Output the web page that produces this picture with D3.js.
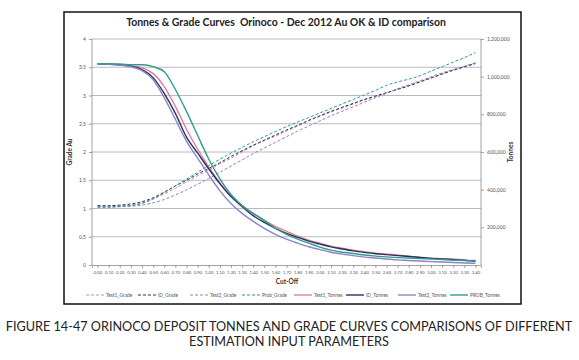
<!DOCTYPE html>
<html>
<head>
<meta charset="utf-8">
<script src="https://cdn.jsdelivr.net/npm/d3@7"></script>
<style>
  body { margin: 0; background: #fff; }
  svg { display: block; }
</style>
</head>
<body>
<svg id="chart" width="579" height="360"></svg>
<script>
// cut-off grades (g/t Au)
var cutOff = ["0.00","0.10","0.20","0.30","0.40","0.50","0.60","0.70","0.80","0.90",
  "1.00","1.10","1.20","1.30","1.40","1.50","1.60","1.70","1.80","1.90",
  "2.00","2.10","2.20","2.30","2.40","2.50","2.60","2.70","2.80","2.90",
  "3.00","3.10","3.20","3.30","3.40"];

// grade above cut-off
var test1Grade = [1.04,1.04,1.05,1.06,1.10,1.17,1.26,1.36,1.47,1.58,1.68,1.79,1.89,2.00,2.11,2.20,2.28,2.37,2.46,2.55,2.63,2.71,2.78,2.85,2.92,2.98,3.04,3.11,3.17,3.24,3.31,3.38,3.44,3.50,3.56];
var idGrade    = [1.05,1.05,1.06,1.08,1.12,1.19,1.29,1.40,1.50,1.61,1.71,1.81,1.92,2.02,2.12,2.21,2.30,2.39,2.47,2.56,2.64,2.72,2.79,2.86,2.93,2.99,3.05,3.11,3.17,3.24,3.31,3.38,3.45,3.51,3.57];
var test2Grade = [1.02,1.02,1.03,1.04,1.06,1.10,1.16,1.24,1.33,1.43,1.53,1.64,1.75,1.86,1.97,2.07,2.17,2.27,2.37,2.46,2.55,2.64,2.72,2.80,2.88,2.96,3.04,3.12,3.19,3.26,3.33,3.40,3.46,3.52,3.58];
var probGrade  = [1.03,1.03,1.04,1.05,1.09,1.17,1.28,1.40,1.52,1.64,1.76,1.87,1.98,2.08,2.18,2.27,2.36,2.45,2.53,2.61,2.69,2.77,2.85,2.93,3.01,3.09,3.18,3.24,3.29,3.35,3.43,3.51,3.59,3.67,3.76];

// tonnes above cut-off
var test1Tonnes = [1068000,1067000,1064000,1058000,1047000,1016000,947000,842000,721000,616000,521000,437000,368000,316000,274000,237000,205000,179000,153000,132000,116000,100000,89000,79000,71000,63000,58000,53000,47000,42000,37000,34000,32000,26000,24000];
var idTonnes    = [1068000,1066000,1063000,1055000,1037000,995000,911000,805000,679000,595000,511000,432000,363000,311000,262000,226000,195000,168000,147000,127000,111000,96000,85000,75000,67000,60000,55000,50000,45000,40000,35000,32000,28000,25000,20000];
var test2Tonnes = [1068000,1066000,1061000,1053000,1032000,984000,889000,774000,658000,568000,479000,395000,326000,274000,232000,195000,163000,137000,116000,97000,82000,68000,58000,50000,42000,37000,32000,27000,24000,21000,18000,16000,13000,11000,9000];
var probTonnes  = [1068000,1068000,1067000,1064000,1063000,1053000,1026000,932000,816000,689000,563000,458000,374000,316000,274000,237000,195000,163000,137000,116000,95000,79000,68000,61000,53000,47000,43000,39000,37000,34000,32000,29000,26000,24000,21000];

var gradeTicks = [0,0.5,1,1.5,2,2.5,3,3.5,4];
var tonnesTicks = [200000,400000,600000,800000,1000000,1200000];

var series = [
  {name: "Test1_Grade",  values: test1Grade,  axis: "grade",  color: "#e27f98", dash: "3,2"},
  {name: "ID_Grade",     values: idGrade,     axis: "grade",  color: "#26335e", dash: "3,2"},
  {name: "Test2_Grade",  values: test2Grade,  axis: "grade",  color: "#8a84c8", dash: "3,2"},
  {name: "Prob_Grade",   values: probGrade,   axis: "grade",  color: "#2f9c8e", dash: "3,2"},
  {name: "Test1_Tonnes", values: test1Tonnes, axis: "tonnes", color: "#e27f98", dash: null},
  {name: "ID_Tonnes",    values: idTonnes,    axis: "tonnes", color: "#26335e", dash: null},
  {name: "Test2_Tonnes", values: test2Tonnes, axis: "tonnes", color: "#8a84c8", dash: null},
  {name: "PROB_Tonnes",  values: probTonnes,  axis: "tonnes", color: "#2f9c8e", dash: null}
];

var svg = d3.select("#chart");
var font = "Lato, 'Open Sans', sans-serif";

// chart frame
svg.append("rect")
  .attr("x", 64).attr("y", 12).attr("width", 457).attr("height", 292)
  .attr("fill", "#fff").attr("stroke", "#111").attr("stroke-width", 1.5);

var pLeft = 92, pRight = 481, pTop = 39, pBottom = 265;

var x = d3.scalePoint().domain(cutOff).range([pLeft, pRight]).padding(0.5);
var yG = d3.scaleLinear().domain([0, 4]).range([pBottom, pTop]);
var yT = d3.scaleLinear().domain([0, 1200000]).range([pBottom, pTop]);

// gridlines
svg.append("g").selectAll("line")
  .data(gradeTicks.filter(function(d) { return d > 0; }))
  .enter().append("line")
    .attr("x1", pLeft).attr("x2", pRight)
    .attr("y1", function(d) { return yG(d); })
    .attr("y2", function(d) { return yG(d); })
    .attr("stroke", "#a8a8a8").attr("stroke-width", 0.8);

// axes
var axL = svg.append("g").attr("transform", "translate(" + pLeft + ",0)")
  .call(d3.axisLeft(yG).tickValues(gradeTicks).tickSize(3).tickFormat(d3.format("")));
var axR = svg.append("g").attr("transform", "translate(" + pRight + ",0)")
  .call(d3.axisRight(yT).tickValues(tonnesTicks).tickSize(3).tickFormat(d3.format(",")));
var axB = svg.append("g").attr("transform", "translate(0," + pBottom + ")")
  .call(d3.axisBottom(x).tickSize(3));

[axL, axR, axB].forEach(function(a) {
  a.selectAll("path, line").attr("stroke", "#8c8c8c").attr("stroke-width", 0.8);
  a.selectAll("text").attr("fill", "#555").style("font-family", font).style("font-size", "5px");
});
axB.selectAll("text").style("font-size", "4.3px");
axL.select(".domain").attr("d", "M0," + pBottom + "V" + pTop);
axR.select(".domain").attr("d", "M0," + pBottom + "V" + pTop);

// lines
var line = function(s) {
  var yy = s.axis === "grade" ? yG : yT;
  return d3.line()
    .x(function(d, i) { return x(cutOff[i]); })
    .y(function(d) { return yy(d); })
    .curve(d3.curveMonotoneX)(s.values);
};

svg.append("g").selectAll("path")
  .data(series)
  .enter().append("path")
    .attr("d", line)
    .attr("fill", "none")
    .attr("stroke", function(d) { return d.color; })
    .attr("stroke-width", function(d) { return d.dash ? 1 : 1.4; })
    .attr("stroke-dasharray", function(d) { return d.dash; });

// axis titles
svg.append("text")
  .attr("transform", "translate(72," + (pTop + pBottom) / 2 + ") rotate(-90)")
  .attr("text-anchor", "middle")
  .style("font-family", font).style("font-size", "6.5px").style("font-weight", "bold")
  .attr("fill", "#333").text("Grade Au");

svg.append("text")
  .attr("transform", "translate(513," + (pTop + pBottom) / 2 + ") rotate(-90)")
  .attr("text-anchor", "middle")
  .style("font-family", font).style("font-size", "6.5px").style("font-weight", "bold")
  .attr("fill", "#333").text("Tonnes");

svg.append("text")
  .attr("x", 287).attr("y", 284)
  .attr("text-anchor", "middle")
  .style("font-family", font).style("font-size", "6.5px").style("font-weight", "bold")
  .attr("fill", "#333").text("Cut-Off");

// title (keeps the double space)
var title = svg.append("text")
  .attr("x", 286).attr("y", 26)
  .attr("text-anchor", "middle")
  .style("white-space", "pre")
  .style("font-family", font).style("font-size", "11px").style("font-weight", "bold")
  .attr("fill", "#222")
  .text("Tonnes & Grade Curves  Orinoco - Dec 2012 Au OK & ID comparison");
fitWidth(title, 11, 320);

// legend
var leg = svg.append("g").selectAll("g")
  .data(series)
  .enter().append("g")
    .attr("transform", function(d, i) { return "translate(" + (86 + i * 52) + ",295)"; });

leg.append("line")
  .attr("x1", 0).attr("x2", 18).attr("y1", 0).attr("y2", 0)
  .attr("stroke", function(d) { return d.color; })
  .attr("stroke-width", function(d) { return d.dash ? 1 : 1.4; })
  .attr("stroke-dasharray", function(d) { return d.dash; });

leg.append("text")
  .attr("x", 20).attr("y", 1.8)
  .style("font-family", font).style("font-size", "4.8px")
  .attr("fill", "#555")
  .text(function(d) { return d.name; });

// caption
var cap1 = svg.append("text")
  .attr("x", 289).attr("y", 331)
  .attr("text-anchor", "middle")
  .style("font-family", font).style("font-size", "12px")
  .attr("fill", "#222")
  .text("FIGURE 14-47 ORINOCO DEPOSIT TONNES AND GRADE CURVES COMPARISONS OF DIFFERENT");
var capSize = fitWidth(cap1, 12, 567);

svg.append("text")
  .attr("x", 289).attr("y", 346)
  .attr("text-anchor", "middle")
  .style("font-family", font).style("font-size", capSize + "px")
  .attr("fill", "#222")
  .text("ESTIMATION INPUT PARAMETERS");

function fitWidth(sel, size, target) {
  var w = sel.node().getComputedTextLength();
  var s = size * target / w;
  sel.style("font-size", s + "px");
  return s;
}
</script>
</body>
</html>
